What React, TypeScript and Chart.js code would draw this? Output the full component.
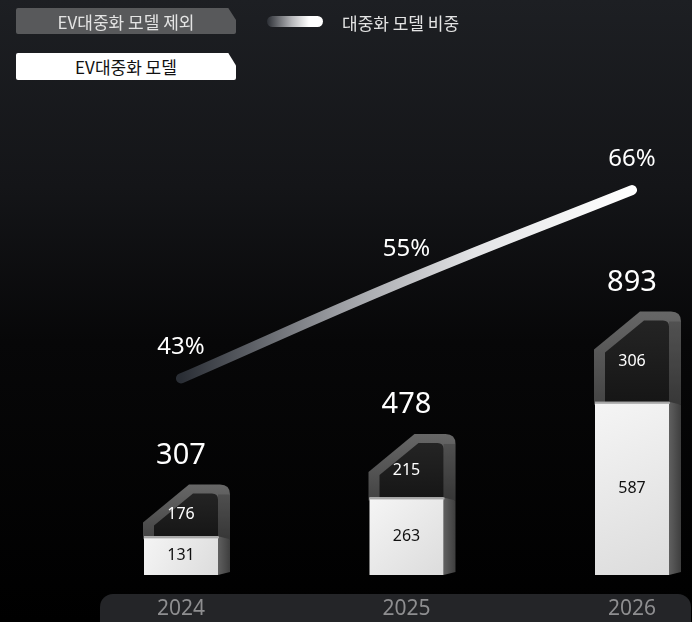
import React, { useEffect, useRef } from "react";
import { Chart, registerables } from "chart.js";

Chart.register(...registerables);

// ---- data ----
const years = ["2024", "2025", "2026"];
const evModels = [131, 263, 587]; // EV대중화 모델
const nonEvModels = [176, 215, 306]; // EV대중화 모델 제외
const totals = [307, 478, 893];
const evShare = [43, 55, 66]; // 대중화 모델 비중 (%)

const W = 692;
const H = 622;
const FRONT = 74;
const SIDE = 12;
const CHX = 46;
const CHY = 38;
const NUM_FONT = '"Noto Sans", "DejaVu Sans", sans-serif';
const KR_FONT = '"Noto Sans CJK KR", "Noto Sans", sans-serif';

const bgPlugin = {
  id: "bgPlugin",
  beforeDraw(chart: any) {
    const { ctx } = chart;
    ctx.save();
    const g = ctx.createLinearGradient(0, 0, 0, H);
    g.addColorStop(0, "#1d1f23");
    g.addColorStop(0.3, "#141518");
    g.addColorStop(0.55, "#070708");
    g.addColorStop(1, "#000000");
    ctx.fillStyle = g;
    ctx.fillRect(0, 0, W, H);
    // bottom axis pill
    ctx.fillStyle = "#242528";
    ctx.beginPath();
    (ctx as any).roundRect(100, 594, 591, 50, 13);
    ctx.fill();
    // year labels
    const xs = chart.scales.x;
    ctx.font = `21px ${NUM_FONT}`;
    ctx.fillStyle = "#8e8e90";
    ctx.textAlign = "center";
    ctx.textBaseline = "middle";
    years.forEach((y, i) => {
      ctx.fillText(y, xs.getPixelForValue(i), 609);
    });
    ctx.restore();
  },
};

function drawBar(ctx: CanvasRenderingContext2D, cx: number, base: number, yW: number, yT: number) {
  const xL = cx - FRONT / 2;
  const xR = cx + FRONT / 2;
  const xS = xR + SIDE;
  const R = 10;

  // ---- dark (upper) segment: outer frame ----
  ctx.save();
  let g = ctx.createLinearGradient(0, yT, 0, yW);
  g.addColorStop(0, "#676767");
  g.addColorStop(1, "#454545");
  ctx.fillStyle = g;
  ctx.beginPath();
  ctx.moveTo(xL - 1, yW + 3);
  ctx.lineTo(xL - 1, yT + CHY);
  ctx.lineTo(xL - 1 + CHX, yT);
  ctx.lineTo(xS - R, yT);
  ctx.quadraticCurveTo(xS, yT, xS, yT + R);
  ctx.lineTo(xS, yW + 3);
  ctx.closePath();
  ctx.fill();
  // side darker
  ctx.fillStyle = "rgba(0,0,0,0.18)";
  ctx.fillRect(xR, yT + R, SIDE, yW - yT - R + 3);

  // inner face
  const ix = xL + 10;
  const it = yT + 9;
  const r2 = 6;
  g = ctx.createLinearGradient(0, it, 0, yW);
  g.addColorStop(0, "#242424");
  g.addColorStop(1, "#161616");
  ctx.fillStyle = g;
  ctx.beginPath();
  ctx.moveTo(ix, yW);
  ctx.lineTo(ix, Math.min(yT + 41, yW));
  ctx.lineTo(xL + 49, it);
  ctx.lineTo(xR - r2, it);
  ctx.quadraticCurveTo(xR, it, xR, it + r2);
  ctx.lineTo(xR, yW);
  ctx.closePath();
  ctx.fill();

  // ---- white (lower) segment ----
  // side
  g = ctx.createLinearGradient(xR, 0, xS, 0);
  g.addColorStop(0, "#606060");
  g.addColorStop(1, "#3e3e3e");
  ctx.fillStyle = g;
  ctx.beginPath();
  ctx.moveTo(xR, yW);
  ctx.lineTo(xS, yW + 3);
  ctx.lineTo(xS, base - 3);
  ctx.lineTo(xR, base);
  ctx.closePath();
  ctx.fill();
  // front
  g = ctx.createLinearGradient(xL, yW, xR, base);
  g.addColorStop(0, "#f5f5f5");
  g.addColorStop(1, "#dcdcdc");
  ctx.fillStyle = g;
  ctx.fillRect(xL, yW, FRONT, base - yW);
  // top edge
  ctx.fillStyle = "#a8a8a8";
  ctx.fillRect(xL, yW, FRONT + 1, 2);
  ctx.restore();
}

const barsPlugin = {
  id: "barsPlugin",
  beforeDatasetsDraw(chart: any) {
    const { ctx } = chart;
    const evMeta = chart.getDatasetMeta(1);
    const nonMeta = chart.getDatasetMeta(2);
    evMeta.data.forEach((el: any, i: number) => {
      const top = nonMeta.data[i];
      drawBar(ctx, el.x, el.base, el.y, top.y);
    });
  },
  afterDatasetsDraw(chart: any) {
    const { ctx } = chart;
    const evMeta = chart.getDatasetMeta(1);
    const nonMeta = chart.getDatasetMeta(2);
    const lineMeta = chart.getDatasetMeta(0);
    ctx.save();
    ctx.textAlign = "center";
    ctx.textBaseline = "middle";
    evMeta.data.forEach((el: any, i: number) => {
      const top = nonMeta.data[i];
      // segment labels
      ctx.font = `16px ${NUM_FONT}`;
      ctx.fillStyle = "#111111";
      ctx.fillText(String(evModels[i]), el.x, (el.y + el.base) / 2);
      ctx.fillStyle = "#ffffff";
      ctx.fillText(String(nonEvModels[i]), el.x, (top.y + 9 + el.y) / 2);
      // totals
      ctx.font = `29px ${NUM_FONT}`;
      ctx.fillText(String(totals[i]), el.x, top.y - 29);
    });
    lineMeta.data.forEach((pt: any, i: number) => {
      ctx.font = `24px ${NUM_FONT}`;
      ctx.fillStyle = "#ffffff";
      ctx.fillText(`${evShare[i]}%`, pt.x, pt.y - 31);
    });
    ctx.restore();
  },
};

export default function App() {
  const ref = useRef<HTMLCanvasElement | null>(null);

  useEffect(() => {
    if (!ref.current) return;
    const chart = new Chart(ref.current, {
      type: "bar",
      data: {
        labels: years,
        datasets: [
          {
            type: "line",
            label: "대중화 모델 비중",
            data: evShare,
            yAxisID: "y1",
            borderWidth: 10,
            borderCapStyle: "round",
            borderJoinStyle: "round",
            tension: 0.45,
            pointRadius: 0,
            order: 0,
            borderColor: (c: any) => {
              const { chart } = c;
              const area = chart.chartArea;
              if (!area) return "#cccccc";
              const g = chart.ctx.createLinearGradient(area.left, 0, area.right, 0);
              g.addColorStop(0, "#2a2e35");
              g.addColorStop(0.35, "#9c9ea3");
              g.addColorStop(0.65, "#e3e4e6");
              g.addColorStop(1, "#ffffff");
              return g;
            },
          } as any,
          {
            type: "bar",
            label: "EV대중화 모델",
            data: evModels,
            backgroundColor: "rgba(0,0,0,0)",
            borderWidth: 0,
            barThickness: FRONT,
            order: 1,
          },
          {
            type: "bar",
            label: "EV대중화 모델 제외",
            data: nonEvModels,
            backgroundColor: "rgba(0,0,0,0)",
            borderWidth: 0,
            barThickness: FRONT,
            order: 1,
          },
        ],
      },
      options: {
        responsive: false,
        animation: false,
        devicePixelRatio: 1,
        layout: { padding: { left: 181, right: 60, top: 100, bottom: 47 } },
        plugins: {
          legend: { display: false },
          tooltip: { enabled: false },
        },
        scales: {
          x: { type: "category", offset: false, stacked: true, display: false },
          y: { stacked: true, min: 0, max: 1610, display: false },
          y1: { min: 19, max: 77, display: false, position: "right" },
        },
      } as any,
      plugins: [bgPlugin, barsPlugin],
    });
    return () => chart.destroy();
  }, []);

  const legendShape = "polygon(0 0, 96.5% 0, 100% 46%, 100% 100%, 0 100%)";

  return (
    <div style={{ position: "fixed", left: 0, top: 0, width: W, height: H, overflow: "hidden", background: "#000" }}>
      <canvas ref={ref} width={W} height={H} style={{ position: "absolute", left: 0, top: 0 }} />
      <div
        style={{
          position: "absolute", left: 16, top: 8, width: 220, height: 26,
          background: "#58595b", color: "#e4e4e4", clipPath: legendShape,
          font: `17px ${KR_FONT}`, display: "flex", alignItems: "center", justifyContent: "center",
          borderRadius: 2,
        }}
      >
        EV대중화 모델 제외
      </div>
      <div
        style={{
          position: "absolute", left: 16, top: 53, width: 220, height: 27,
          background: "#ffffff", color: "#111111", clipPath: legendShape,
          font: `17px ${KR_FONT}`, display: "flex", alignItems: "center", justifyContent: "center",
          borderRadius: 2,
        }}
      >
        EV대중화 모델
      </div>
      <div
        style={{
          position: "absolute", left: 267, top: 16, width: 56, height: 11, borderRadius: 6,
          background: "linear-gradient(to right, #2c2f35 0%, #b8b9bc 45%, #ffffff 75%, #ffffff 100%)",
        }}
      />
      <div
        style={{
          position: "absolute", left: 342, top: 10, height: 24, lineHeight: "24px",
          color: "#e4e4e4", font: `17px ${KR_FONT}`, whiteSpace: "nowrap",
        }}
      >
        대중화 모델 비중
      </div>
    </div>
  );
}
